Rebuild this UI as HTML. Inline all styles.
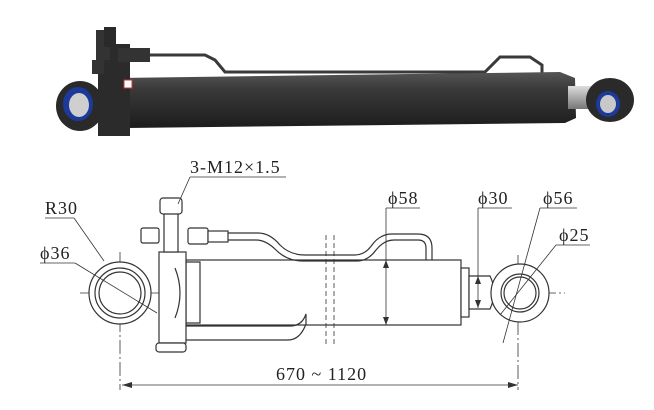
<!DOCTYPE html>
<html><head><meta charset="utf-8"><style>
html,body{margin:0;padding:0;background:#fff;}
svg{display:block;}
text{font-family:"Liberation Serif","DejaVu Serif",serif;fill:#222;letter-spacing:1px;}
</style></head><body>
<svg width="654" height="410" viewBox="0 0 654 410" xmlns="http://www.w3.org/2000/svg">
<defs>
<linearGradient id="bd" x1="0" y1="0" x2="0" y2="1">
<stop offset="0" stop-color="#555"/><stop offset="0.3" stop-color="#3a3a3a"/><stop offset="1" stop-color="#1c1c1c"/>
</linearGradient>
<linearGradient id="rd" x1="0" y1="0" x2="0" y2="1">
<stop offset="0" stop-color="#ddd"/><stop offset="0.5" stop-color="#aaa"/><stop offset="1" stop-color="#777"/>
</linearGradient>
</defs>
<!-- TOP 3D cylinder -->
<path d="M150 55 L205 55 L215 60 L225 72 L485 72 L500 57 L530 57 L542 65 L542 78" fill="none" stroke="#3a3a3a" stroke-width="3"/>
<polygon points="118,78 560,72 575,78 576,118 565,123 122,128" fill="url(#bd)"/>
<rect x="568" y="86" width="26" height="23" fill="url(#rd)"/>
<ellipse cx="610" cy="100" rx="24" ry="22" fill="#2a2a2a"/>
<ellipse cx="608" cy="104" rx="12" ry="13" fill="#1d3a9a"/>
<ellipse cx="608" cy="104" rx="8" ry="9" fill="#c8c8c8"/>
<ellipse cx="80" cy="106" rx="24" ry="25" fill="#2a2a2a"/>
<ellipse cx="78" cy="104" rx="15" ry="17" fill="#1d3a9a"/>
<ellipse cx="79" cy="105" rx="10" ry="12" fill="#cfcfcf"/>
<rect x="98" y="44" width="32" height="92" fill="#2b2b2b"/>
<rect x="92" y="60" width="12" height="14" fill="#333"/>
<rect x="96" y="30" width="14" height="30" fill="#333"/>
<rect x="104" y="27" width="12" height="20" fill="#2a2a2a"/>
<rect x="118" y="48" width="32" height="14" fill="#333"/>
<rect x="124" y="80" width="8" height="8" fill="#fff" stroke="#c33" stroke-width="1"/>
<!-- BOTTOM drawing -->
<g fill="none" stroke="#333" stroke-width="1.2">
<line x1="80" y1="293" x2="565" y2="293" stroke-dasharray="14,3,2,3" stroke-width="0.8"/>
<line x1="120" y1="252" x2="120" y2="390" stroke-dasharray="14,3,2,3" stroke-width="0.8"/>
<line x1="518" y1="255" x2="518" y2="390" stroke-dasharray="14,3,2,3" stroke-width="0.8"/>
<circle cx="120" cy="293" r="31" fill="#fff"/>
<circle cx="120" cy="293" r="25"/>
<circle cx="120" cy="293" r="21"/>
<rect x="186" y="260" width="275" height="65" fill="#fff"/>
<path d="M186 262 L200 262 L200 323 L186 323"/>
<path d="M186 326 L290 326 Q302 326 306 314 L306 324 Q300 340 288 340 L186 340"/>
<rect x="159" y="252" width="27" height="91" fill="#fff"/>
<rect x="156" y="343" width="30" height="9" rx="3" fill="#fff"/>
<path d="M175 268 Q185 293 175 318"/>
<rect x="164" y="213" width="14" height="39" fill="#fff"/>
<rect x="160" y="198" width="22" height="16" rx="3" fill="#fff"/>
<rect x="141" y="228" width="18" height="15" rx="2" fill="#fff"/>
<rect x="188" y="228" width="20" height="16" rx="2" fill="#fff"/>
<rect x="208" y="231" width="20" height="11" fill="#fff"/>
<path d="M228 233 L258 233 Q270 233 280 245 Q290 255 305 255 L355 255 Q365 255 372 245 Q380 234 392 234 L418 234 Q432 234 432 248 L432 260"/>
<path d="M228 240 L256 240 Q266 240 276 250 Q287 261 303 261 L357 261 Q368 261 376 250 Q384 240 394 240 L418 240 Q426 240 426 248 L426 260"/>
<line x1="326" y1="235" x2="326" y2="345" stroke-dasharray="5,3" stroke-width="0.8"/>
<line x1="334" y1="235" x2="334" y2="345" stroke-dasharray="5,3" stroke-width="0.8"/>
<rect x="461" y="268" width="8" height="49" fill="#fff"/>
<path d="M469 276 L490 276 Q498 292 490 309 L469 309 Z" fill="#fff"/>
<circle cx="520" cy="293" r="29" fill="#fff"/>
<circle cx="520" cy="293" r="19"/>
<circle cx="520" cy="293" r="16"/>
</g>
<g stroke="#333" stroke-width="0.8" fill="none">
<line x1="386" y1="208" x2="386" y2="325"/>
<line x1="386" y1="208" x2="420" y2="208"/>
<line x1="478" y1="208" x2="478" y2="308"/>
<line x1="478" y1="208" x2="512" y2="208"/>
<line x1="540" y1="208" x2="577" y2="208"/>
<line x1="540" y1="208" x2="503" y2="343"/>
<line x1="556" y1="245" x2="590" y2="245"/>
<line x1="556" y1="245" x2="500" y2="315"/>
<line x1="190" y1="177" x2="286" y2="177"/>
<line x1="190" y1="177" x2="178" y2="204"/>
<line x1="45" y1="218" x2="74" y2="218"/>
<line x1="74" y1="218" x2="104" y2="261"/>
<line x1="40" y1="263" x2="75" y2="263"/>
<line x1="75" y1="263" x2="157" y2="313"/>
<line x1="122" y1="385" x2="518" y2="385"/>
</g>
<g fill="#333">
<polygon points="386,260 383,268 389,268"/><polygon points="386,325 383,317 389,317"/>
<polygon points="478,276 475,284 481,284"/><polygon points="478,308 475,300 481,300"/>
<polygon points="122,385 132,382 132,388"/><polygon points="518,385 508,382 508,388"/>
</g>
<text x="190" y="173" font-size="18">3-M12×1.5</text>
<text x="45" y="214" font-size="18">R30</text>
<text x="40" y="259" font-size="18">ϕ36</text>
<text x="388" y="204" font-size="18">ϕ58</text>
<text x="478" y="204" font-size="18">ϕ30</text>
<text x="543" y="204" font-size="18">ϕ56</text>
<text x="559" y="241" font-size="18">ϕ25</text>
<text x="276" y="380" font-size="18">670 ~ 1120</text>
</svg>
</body></html>
